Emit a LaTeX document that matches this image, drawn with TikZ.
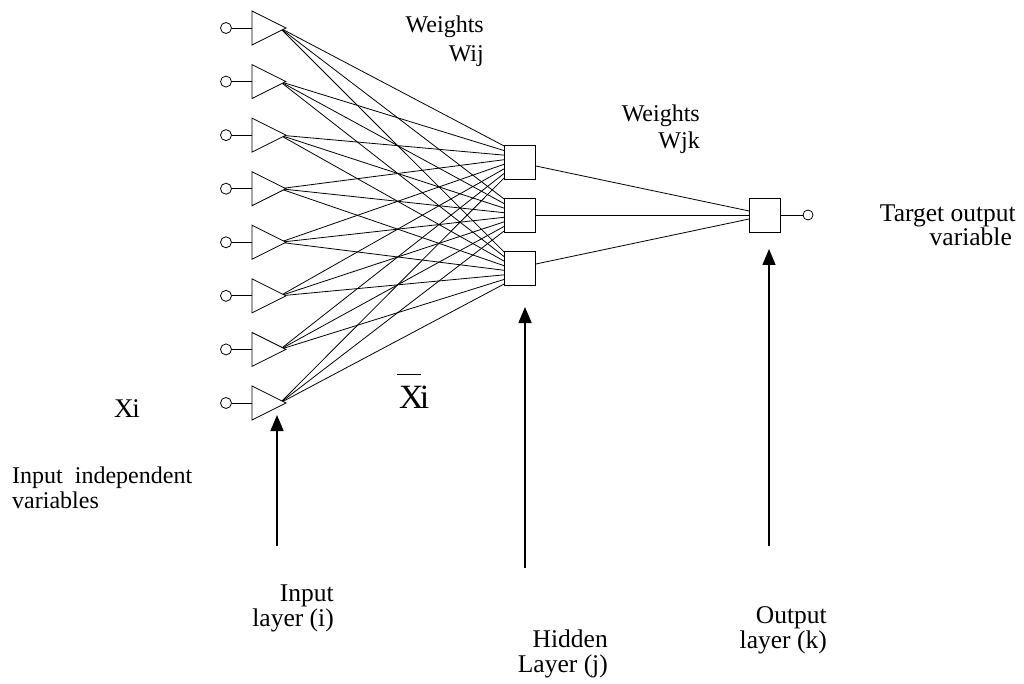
\documentclass[tikz,border=0pt]{standalone}
\usepackage{fontspec}
\setmainfont{Liberation Serif}
\usetikzlibrary{shapes.geometric,arrows.meta,backgrounds}
\begin{document}
\begin{tikzpicture}[x=1pt,y=-1pt,
  thinline/.style={line width=0.8pt},
  inpin/.style={circle,draw,line width=0.8pt,minimum size=11pt,inner sep=0pt},
  tri/.style={isosceles triangle,isosceles triangle stretches,draw,fill=white,line width=0.8pt,
    minimum width=34pt,minimum height=34pt,inner sep=0pt,anchor=apex},
  unit/.style={rectangle,draw,fill=white,line width=0.8pt,minimum width=31pt,minimum height=34pt,inner sep=0pt},
  outpin/.style={circle,draw,line width=0.8pt,minimum size=10pt,inner sep=0pt},
  pointer/.style={line width=1.6pt,-{Triangle[width=13pt,length=16pt]}},
  lbl/.style={font=\fontsize{24}{28}\selectfont,inner sep=0pt},
  lblbig/.style={font=\fontsize{25.5}{30}\selectfont,inner sep=0pt},
]
\useasboundingbox (0,0) rectangle (1024,684);

% input layer
\foreach \i in {1,...,8}{
  \pgfmathsetmacro\yy{28+(\i-1)*53.57}
  \node[inpin] (c\i) at (226,\yy) {};
  \node[tri] (t\i) at (287,\yy) {};
  \draw[thinline] (c\i) -- (t\i);
}

% hidden layer
\node[unit] (h1) at (520,162) {};
\node[unit] (h2) at (520,215) {};
\node[unit] (h3) at (520,268) {};

% output layer
\node[unit] (o) at (765,215) {};
\node[outpin] (oc) at (808,215) {};
\draw[thinline] (o) -- (oc);

% input -> hidden weights
\begin{pgfonlayer}{background}
\foreach \i in {1,...,8}{
  \foreach \j in {1,2,3}{
    \draw[thinline] ([xshift=-7pt]t\i.apex) -- ([yshift={16pt-(\i-1)*32pt/7}]h\j.west);
  }
}
\end{pgfonlayer}

% hidden -> output weights
\draw[thinline] ([yshift=-4pt]h1.east) -- ([yshift=4pt]o.west);
\draw[thinline] (h2) -- (o);
\draw[thinline] ([yshift=4pt]h3.east) -- ([yshift=-4pt]o.west);

% layer pointers
\coordinate (ia0) at (277,546); \coordinate (ia1) at (277,415);
\coordinate (ha0) at (525,568); \coordinate (ha1) at (525,307);
\coordinate (oa0) at (769,546); \coordinate (oa1) at (769,249);
\draw[pointer] (ia0) -- (ia1);
\draw[pointer] (ha0) -- (ha1);
\draw[pointer] (oa0) -- (oa1);

% labels
\node[lbl,anchor=base east] (w1a) at (484,33) {Weights};
\node[lbl,anchor=base east] (w1b) at (484,62) {Wij};
\node[lbl,anchor=base east] (w2a) at (700,122) {Weights};
\node[lbl,anchor=base east] (w2b) at (700,149) {Wjk};
\node[lblbig,anchor=base east] (to1) at (1016,222) {Target output};
\node[lblbig,anchor=base east] (to2) at (1012,246) {variable};
\node[font=\fontsize{27}{30}\selectfont,inner sep=0pt,anchor=base] (xi) at (127,417) {X\kern-1pt i};
\node[font=\fontsize{34}{40}\selectfont,inner sep=0pt,anchor=base west] (xbar) at (399,408)
  {\rlap{\kern-2pt\rule[33pt]{24pt}{1.2pt}}X\kern-4pt i};
\node[lbl,anchor=base west] (iv1) at (12,483) {Input\ \ independent};
\node[lbl,anchor=base west] (iv2) at (12,508) {variables};
\node[lblbig,anchor=base east] (il1) at (334,601) {Input};
\node[lblbig,anchor=base east] (il2) at (334,626) {layer (i)};
\node[lblbig,anchor=base east] (hl1) at (608,647) {Hidden};
\node[lblbig,anchor=base east] (hl2) at (608,672) {Layer (j)};
\node[lblbig,anchor=base east] (ol1) at (827,623) {Output};
\node[lblbig,anchor=base east] (ol2) at (827,648) {layer (k)};
\end{tikzpicture}
\end{document}
